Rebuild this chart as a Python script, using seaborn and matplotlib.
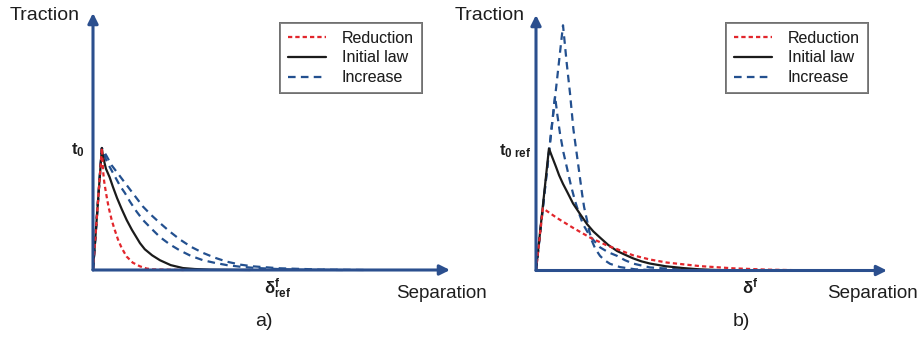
import numpy as np
import pandas as pd
import matplotlib
matplotlib.use("Agg")
import matplotlib.pyplot as plt
from matplotlib.lines import Line2D
import seaborn as sns

# ---- traction-separation laws (x: separation, y: traction / t0) ----
# a) fracture energy varied at constant t0
a_red_x = [0, 0.48, 0.54, 0.6, 0.65, 0.74, 0.85, 1.01, 1.15, 1.35, 1.55, 1.82, 2.15, 2.54, 2.9, 3.24, 4.9]
a_red_y = [0, 1.0, 0.82, 0.73, 0.68, 0.60, 0.51, 0.41, 0.34, 0.25, 0.18, 0.11, 0.06, 0.03, 0.012, 0.005, 0]
a_black_x = [0, 0.48, 0.54, 0.7, 0.9, 1.08, 1.3, 1.55, 1.82, 2.1, 2.3, 2.54, 2.8, 3.2, 3.62, 4.2, 4.86, 5.5, 6.3, 8.5]
a_black_y = [0, 1.0, 0.93, 0.83, 0.76, 0.68, 0.59, 0.50, 0.41, 0.33, 0.28, 0.22, 0.17, 0.12, 0.08, 0.04, 0.016, 0.008, 0.003, 0]
a_inc1_x = [0, 0.48, 0.74, 1.1, 1.46, 1.73, 2.0, 2.35, 2.7, 3.15, 3.62, 4.15, 4.7, 5.3, 5.95, 6.6, 7.24, 8.0, 8.86, 10.0, 11.2, 13.5]
a_inc1_y = [0, 1.0, 0.89, 0.79, 0.69, 0.63, 0.56, 0.48, 0.41, 0.34, 0.27, 0.21, 0.16, 0.115, 0.08, 0.058, 0.04, 0.026, 0.016, 0.008, 0.003, 0]
a_inc2_x = [0, 0.48, 0.75, 1.0, 1.4, 2.0, 2.35, 2.7, 3.15, 3.62, 4.15, 4.7, 5.3, 5.95, 6.6, 7.24, 8.0, 8.65, 10.1, 12.3, 14.7]
a_inc2_y = [0, 1.0, 0.93, 0.86, 0.78, 0.66, 0.59, 0.52, 0.45, 0.385, 0.315, 0.25, 0.19, 0.14, 0.10, 0.068, 0.043, 0.03, 0.014, 0.004, 0]

# b) t0 varied at constant fracture energy
b_red_x = [0, 0.37, 1.14, 2.0, 2.92, 3.84, 4.38, 5.24, 6.16, 7.08, 8.86, 10.65, 12.5, 14.3, 18.7]
b_red_y = [0, 0.51, 0.43, 0.35, 0.27, 0.205, 0.175, 0.125, 0.09, 0.065, 0.036, 0.018, 0.007, 0.002, 0]
b_black_x = [0, 0.70, 0.85, 1.08, 1.25, 1.46, 1.7, 2.0, 2.35, 2.76, 3.1, 3.46, 3.9, 4.38, 4.8, 5.24, 5.7, 6.16, 7.0, 7.95, 8.8, 9.78, 12.1]
b_black_y = [0, 1.0, 0.94, 0.85, 0.78, 0.71, 0.64, 0.55, 0.47, 0.38, 0.32, 0.27, 0.21, 0.16, 0.13, 0.10, 0.075, 0.057, 0.035, 0.02, 0.01, 0.004, 0]
b_inc1_x = [0, 1.03, 1.15, 1.30, 1.48, 1.66, 1.9, 2.11, 2.32, 2.54, 2.92, 3.46, 3.9, 4.38, 4.8, 5.24, 6.16, 7.78, 9.95, 12.1]
b_inc1_y = [0, 1.43, 1.28, 1.12, 0.97, 0.85, 0.69, 0.57, 0.47, 0.38, 0.28, 0.19, 0.15, 0.12, 0.085, 0.057, 0.025, 0.008, 0, 0]
b_inc2_x = [0, 1.46, 1.66, 1.84, 2.02, 2.27, 2.49, 2.6, 2.76, 2.9, 3.03, 3.2, 3.46, 3.7, 4.0, 4.54, 5.35, 6.7, 8.86]
b_inc2_y = [0, 2.01, 1.70, 1.45, 1.16, 0.88, 0.63, 0.52, 0.41, 0.31, 0.24, 0.18, 0.12, 0.085, 0.055, 0.028, 0.01, 0, 0]

law_names = ["Reduction", "Initial law", "Increase"]
a_delta_f = 10.0   # reference separation at failure, panel a
b_delta_f = 11.6   # separation at failure, panel b
t0_ref = 1.0

colors = {"Reduction": "#e2262c", "Initial law": "#1b1b1b", "Increase": "#23508f"}
dash_map = {"Reduction": (1.9, 1.4), "Initial law": "", "Increase": (3.4, 2.4)}
axis_color = "#2b4f8e"
text_color = "#1e1e1e"


def frame(curves):
    rows = []
    for name, law, xs, ys in curves:
        rows.append(pd.DataFrame({"x": xs, "y": ys, "law": law, "curve": name}))
    return pd.concat(rows, ignore_index=True)


df_a = frame([
    ("inc2", "Increase", a_inc2_x, a_inc2_y),
    ("inc1", "Increase", a_inc1_x, a_inc1_y),
    ("black", "Initial law", a_black_x, a_black_y),
    ("red", "Reduction", a_red_x, a_red_y),
])
df_b = frame([
    ("inc2", "Increase", b_inc2_x, b_inc2_y),
    ("inc1", "Increase", b_inc1_x, b_inc1_y),
    ("black", "Initial law", b_black_x, b_black_y),
    ("red", "Reduction", b_red_x, b_red_y),
])

sns.set_theme(style="white")
plt.rcParams["font.family"] = ["Liberation Sans", "DejaVu Sans"]
plt.rcParams["mathtext.fontset"] = "custom"
plt.rcParams["mathtext.rm"] = "Liberation Sans"
plt.rcParams["mathtext.bf"] = "Liberation Sans:bold"
plt.rcParams["mathtext.it"] = "Liberation Sans:italic"

W, H = 919, 339
fig = plt.figure(figsize=(W / 100, H / 100), dpi=100)


def px_axes(x0, y_base, w, h):
    return fig.add_axes([x0 / W, (H - y_base) / H, w / W, h / H])


ax_a = px_axes(93, 270, 357, 257)
ax_b = px_axes(536, 270.5, 351, 255.5)
ax_a.set_xlim(0, 357 / 18.5)
ax_a.set_ylim(0, 257 / 122)
ax_b.set_xlim(0, 351 / 18.5)
ax_b.set_ylim(0, 255.5 / 122)

for ax, df in ((ax_a, df_a), (ax_b, df_b)):
    sns.lineplot(data=df, x="x", y="y", hue="law", style="law", units="curve",
                 estimator=None, sort=False, palette=colors, dashes=dash_map,
                 linewidth=1.6, legend=False, ax=ax)
    for ln in ax.get_lines():
        ln.set_clip_on(False)
        ln.set_solid_capstyle("butt")
        ln.set_solid_joinstyle("round")
        ln.set_dash_joinstyle("round")
    for s in ax.spines.values():
        s.set_visible(False)
    ax.set_xlabel("")
    ax.set_ylabel("")
    ax.patch.set_alpha(0)
    xmax = ax.get_xlim()[1]
    ymax = ax.get_ylim()[1]
    arrow = dict(arrowstyle="-|>", color=axis_color, lw=2.2,
                 mutation_scale=15, shrinkA=0, shrinkB=0)
    ax.annotate("", xy=(xmax, 0), xytext=(0, 0), arrowprops=arrow,
                annotation_clip=False)
    ax.annotate("", xy=(0, ymax), xytext=(0, 0), arrowprops=arrow,
                annotation_clip=False)
    ax.tick_params(length=0, labelsize=12, labelcolor=text_color)

ax_a.set_xticks([a_delta_f], [r"$\mathbf{δ^f_{ref}}$"])
ax_a.set_yticks([t0_ref], [r"$\mathbf{t_0}$"])
ax_b.set_xticks([b_delta_f], [r"$\mathbf{δ^f}$"])
ax_b.set_yticks([t0_ref], [r"$\mathbf{t_{0\ ref}}$"])
ax_a.tick_params(axis="x", pad=5)
ax_b.tick_params(axis="x", pad=4)
ax_a.tick_params(axis="y", pad=6)
ax_b.tick_params(axis="y", pad=3)

# legends
handles = [Line2D([], [], color=colors[n], lw=1.6,
                  linestyle=(0, dash_map[n]) if dash_map[n] else "-")
           for n in law_names]
for x0 in (280, 726):
    leg = fig.legend(handles, law_names, loc="upper left",
                     bbox_to_anchor=(x0 / W, 1 - 23 / H),
                     bbox_transform=fig.transFigure, fontsize=11.5,
                     frameon=True, fancybox=False, edgecolor="#6a6a6a",
                     handlelength=2.4, handletextpad=1.0, labelspacing=0.3,
                     borderpad=0.48, borderaxespad=0)
    leg.get_frame().set_linewidth(1.4)
    for t in leg.get_texts():
        t.set_color(text_color)
    fig.add_artist(leg)


def ftext(x, y, s, **kw):
    fig.text(x / W, 1 - y / H, s, color=text_color, **kw)


ftext(10, 15, "Traction", fontsize=14, ha="left", va="center")
ftext(455, 15, "Traction", fontsize=14, ha="left", va="center")
ftext(396, 294, "Separation", fontsize=13.5, ha="left", va="center")
ftext(827, 294, "Separation", fontsize=13.5, ha="left", va="center")
ftext(264, 321, "a)", fontsize=14, ha="center", va="center")
ftext(741, 321, "b)", fontsize=14, ha="center", va="center")

fig.savefig("out.png", dpi=100)
